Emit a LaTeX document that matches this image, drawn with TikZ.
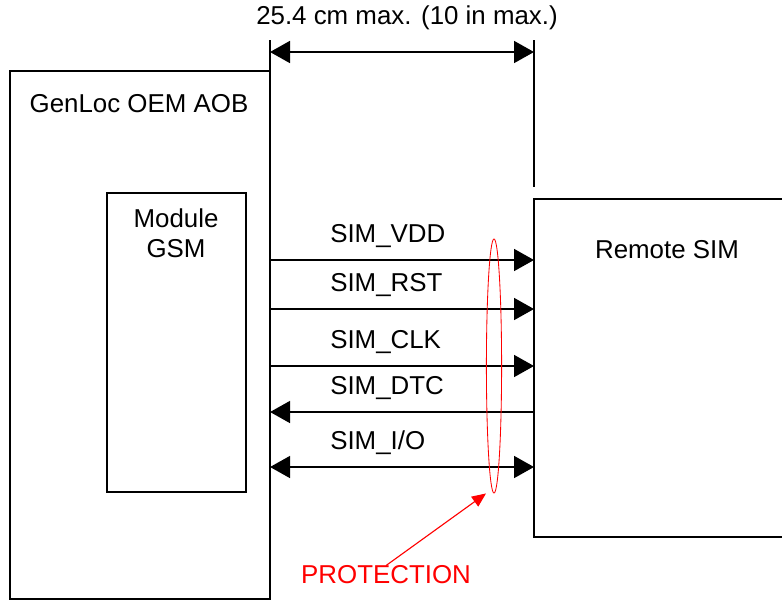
\documentclass[tikz,border=0pt]{standalone}
\usepackage{fontspec}
\setmainfont{Liberation Sans}
\usetikzlibrary{arrows.meta,positioning,shapes.geometric}

\begin{document}
\begin{tikzpicture}[
    x=0.025cm, y=-0.025cm,
    box/.style={rectangle, draw, line width=1.2pt, anchor=north west, inner sep=0pt, outer sep=0pt},
    lbl/.style={font=\fontsize{18.4}{21.5}\selectfont, inner sep=0pt},
    wire/.style={line width=1.2pt},
    fwd/.style={-{Triangle[length=0.5cm, width=0.55cm]}},
    back/.style={{Triangle[length=0.5cm, width=0.55cm]}-},
    both/.style={{Triangle[length=0.5cm, width=0.55cm]}-{Triangle[length=0.5cm, width=0.55cm]}}
]
\clip (0,0) rectangle (782,601);

\node[box, minimum width=6.5cm, minimum height=13.2cm] (aob) at (10,71) {};
\node[box, minimum width=3.475cm, minimum height=7.475cm] (gsm) at (107,193) {};
\node[box, minimum width=6.6cm, minimum height=8.45cm] (sim) at (534,199) {};

\node[lbl] (aobtxt) at (139,104) {GenLoc OEM AOB};
\node[lbl, align=center] (gsmtxt) at (176,233) {Module\\GSM};
\node[lbl] (simtxt) at (667,250) {Remote SIM};

% dimension
\coordinate (diml) at (270,52);
\coordinate (dimr) at (534,52);
\draw[wire] (270,40) -- (aob.north east);
\draw[wire] (534,40) -- (534,187);
\draw[wire, both] (diml) -- (dimr);
\node[lbl] (dimtxt) at (407,18) {25.4 cm max. (10 in max.)};

% signals
\foreach \y/\txt/\dir in {260/SIM\_VDD/fwd, 309/SIM\_RST/fwd, 366/SIM\_CLK/fwd, 412/SIM\_DTC/back, 467/{SIM\_I/O}/both} {
    \draw[wire, \dir] (aob.east |- 0,\y) -- (sim.west |- 0,\y);
    \node[lbl, anchor=base west] (s\y) at (330,\y-18) {\txt};
}

% protection
\node[draw=red, line width=0.6pt, ellipse, minimum width=0.38cm, minimum height=6.35cm, inner sep=0pt] (prot) at (494,366) {};
\node[lbl, red] (prottxt) at (386,575) {PROTECTION};
\draw[red, line width=0.8pt, -{Triangle[length=0.35cm, width=0.3cm]}] (prottxt.north) -- ([xshift=-0.2cm]prot.south);
\end{tikzpicture}
\end{document}
